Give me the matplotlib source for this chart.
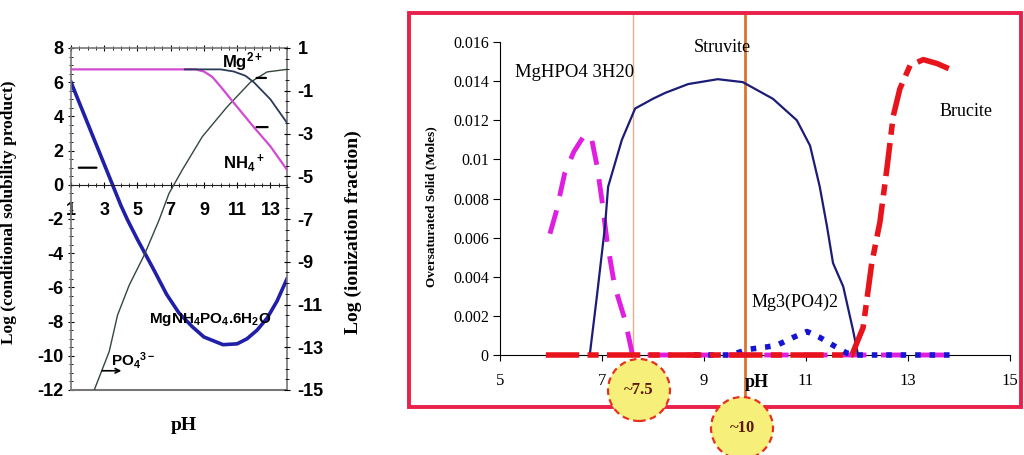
import matplotlib.pyplot as plt
from matplotlib.patches import Ellipse, Rectangle
from matplotlib.ticker import AutoMinorLocator

plt.rcParams['mathtext.fontset'] = 'custom'
plt.rcParams['mathtext.rm'] = 'Liberation Sans:bold'
plt.rcParams['mathtext.default'] = 'rm'
plt.rcParams['axes.unicode_minus'] = False

# left panel: conditional solubility product (left axis)
ph_sol = [1, 2, 3, 3.5, 4, 4.4, 5, 5.5, 6, 6.75, 7.5, 8.3, 9, 10.15, 11, 11.6, 12.2, 12.8, 13.4, 14]
log_sol = [6.0, 3.6, 1.2, 0.0, -1.2, -2.05, -3.2, -4.1, -5.0, -6.4, -7.5, -8.3, -8.9, -9.35,
           -9.3, -9.0, -8.5, -7.8, -6.8, -5.5]

# ionization fractions (right axis)
ph_nh4 = [1, 8.5, 9, 9.5, 10, 10.8, 12, 13, 14]
log_nh4 = [0, 0, -0.1, -0.35, -0.8, -1.57, -2.7, -3.6, -4.7]
ph_mg = [7.85, 10, 10.8, 11.5, 12, 13, 14]
log_mg = [0, 0, -0.1, -0.3, -0.6, -1.4, -2.5]
ph_po4 = [2.4, 3.3, 3.8, 4.5, 5.4, 6.3, 6.9, 7.7, 8.9, 10.4, 11.8, 12.8, 14]
log_po4 = [-15, -13.2, -11.5, -10.1, -8.7, -7.05, -5.8, -4.7, -3.15, -1.75, -0.6, -0.12, 0]

# right panel: oversaturated solids (moles)
ph_struv = [6.76, 6.9, 7.06, 7.12, 7.39, 7.65, 8.0, 8.24, 8.69, 9.27, 9.76, 10.35, 10.82,
            11.08, 11.27, 11.41, 11.53, 11.73, 11.92, 12.02]
struvite = [0, 0.003, 0.0066, 0.0086, 0.011, 0.0126, 0.0131, 0.0134, 0.01385, 0.0141, 0.01395,
            0.0131, 0.012, 0.0107, 0.0086, 0.0066, 0.0047, 0.0035, 0.0013, 0]
ph_mghpo4 = [5.98, 6.1, 6.27, 6.45, 6.67, 6.8, 6.9, 7.0, 7.1, 7.25, 7.45, 7.6,
             8.5, 10, 11, 12, 13, 13.9]
mghpo4 = [0.0062, 0.0073, 0.0093, 0.0104, 0.0113, 0.011, 0.0097, 0.0079, 0.0058, 0.0035,
          0.0018, 0, 0, 0, 0, 0, 0, 0]
ph_bruc = [5.9, 7, 8, 9, 10, 11, 11.9, 12.12, 12.29, 12.45, 12.59, 12.71, 12.84, 13.04,
           13.3, 13.57, 13.92]
brucite = [0, 0, 0, 0, 0, 0, 0, 0.0014, 0.0047, 0.0068, 0.0096, 0.0122, 0.0136, 0.0148,
           0.0151, 0.0149, 0.0145]
ph_mg3 = [8.8, 9.5, 9.9, 10.2, 10.43, 10.75, 11.02, 11.27, 11.53, 11.8, 12.0, 12.5, 13, 13.5, 13.9]
mg3po4 = [0, 0, 0.0003, 0.0004, 0.0005, 0.0009, 0.0012, 0.0009, 0.0005, 0.0001, 0, 0, 0, 0, 0]

left_xticks = [1, 3, 5, 7, 9, 11, 13]
left_yticks = list(range(-12, 9, 2))
right_yticks = list(range(-15, 2, 2))
solid_xticks = [5, 7, 9, 11, 13, 15]
solid_yticks = [0, 0.002, 0.004, 0.006, 0.008, 0.01, 0.012, 0.014, 0.016]
solid_ylabels = ['0', '0.002', '0.004', '0.006', '0.008', '0.01', '0.012', '0.014', '0.016']

fig = plt.figure(figsize=(10.24, 4.55), dpi=100)
W, H = 1024, 455

# ---------------- left panel ----------------
sans = 'Liberation Sans'
serif = 'Liberation Serif'

ax = fig.add_axes([71 / W, 1 - 390 / H, 216 / W, 342 / H])
ax.set_xlim(1, 14)
ax.set_ylim(-12, 8)
ax.spines['bottom'].set_position(('data', 0))
ax.spines['bottom'].set_color('#222222')
for s in ['left', 'right', 'top']:
    ax.spines[s].set_color('#777777')
    ax.spines[s].set_linewidth(1.2)
ax.plot([0, 1], [0, 0], transform=ax.transAxes, color='#777777', lw=1.5, clip_on=False)

ax.set_xticks(left_xticks)
ax.set_yticks(left_yticks)
ax.xaxis.set_minor_locator(AutoMinorLocator(4))
ax.yaxis.set_minor_locator(AutoMinorLocator(4))
ax.tick_params(axis='x', which='major', direction='inout', length=5, pad=10, top=True)
ax.tick_params(axis='x', which='minor', direction='inout', length=3, top=True)
ax.tick_params(axis='y', which='major', direction='inout', length=5, pad=3)
ax.tick_params(axis='y', which='minor', direction='inout', length=3)
for lab in ax.get_xticklabels() + ax.get_yticklabels():
    lab.set_fontfamily(sans)
    lab.set_fontweight('bold')
    lab.set_fontsize(13)

ax2 = ax.twinx()
ax2.set_ylim(-15, 1)
ax2.set_yticks(right_yticks)
ax2.yaxis.set_minor_locator(AutoMinorLocator(4))
ax2.tick_params(axis='y', which='major', direction='inout', length=5, pad=5)
ax2.tick_params(axis='y', which='minor', direction='inout', length=3)
for s in ['left', 'right', 'top', 'bottom']:
    ax2.spines[s].set_visible(False)
for lab in ax2.get_yticklabels():
    lab.set_fontfamily(sans)
    lab.set_fontweight('bold')
    lab.set_fontsize(13)

ax2.plot(ph_po4, log_po4, color='#34473a', lw=1)
ax2.plot(ph_nh4, log_nh4, color='#d24ad2', lw=1.6)
ax2.plot(ph_mg, log_mg, color='#2c3a58', lw=1.3)
ax.plot(ph_sol, log_sol, color='#1f1fa8', lw=2.6)

ax.annotate('', xy=(1.3, 1.0), xytext=(2.7, 1.0), arrowprops=dict(arrowstyle='-', lw=1.6, color='black'))
ax2.annotate('', xy=(13.0, -2.7), xytext=(12.0, -2.7), arrowprops=dict(arrowstyle='-', lw=1.6, color='black'))
ax2.annotate('', xy=(12.9, -0.4), xytext=(12.0, -0.4), arrowprops=dict(arrowstyle='-', lw=1.6, color='black'))
ax2.annotate('', xy=(4.2, -14.1), xytext=(2.7, -14.1),
             arrowprops=dict(arrowstyle='->', lw=1.2, color='black', mutation_scale=8))

ax2.text(11.3, 0.35, r'Mg$^{2+}$', fontsize=12, fontweight='bold', fontfamily=sans, ha='center', va='center')
ax2.text(11.4, -4.4, r'NH$_4$$^+$', fontsize=12, fontweight='bold', fontfamily=sans, ha='center', va='center')
ax.text(9.4, -7.9, r'MgNH$_4$PO$_4$.6H$_2$O', fontsize=11, fontweight='bold', fontfamily=sans,
        ha='center', va='center')
ax2.text(4.76, -13.6, r'PO$_4$$^{3-}$', fontsize=11, fontweight='bold', fontfamily=sans, ha='center', va='center')

ax.set_ylabel('Log (conditional solubility product)', fontsize=12.5, fontweight='bold', fontfamily=serif)
ax.yaxis.set_label_coords(-0.25, 0.52)
ax2.set_ylabel('Log (ionization fraction)', fontsize=14, fontweight='bold', fontfamily=serif)
ax2.yaxis.set_label_coords(1.268, 0.462)
ax.set_xlabel('pH', fontsize=14, fontweight='bold', fontfamily=serif)
ax.xaxis.set_label_coords(0.52, -0.08)

# ---------------- right panel ----------------
axr = fig.add_axes([409 / W, 1 - 407 / H, 612 / W, 394 / H])
axr.set_xlim(3.216, 15.216)
axr.set_ylim(-0.002658, 0.017483)
axr.spines['top'].set_visible(False)
axr.spines['right'].set_visible(False)
axr.spines['left'].set_position(('data', 5))
axr.spines['left'].set_bounds(0, 0.016)
axr.spines['bottom'].set_position(('data', 0))
axr.spines['bottom'].set_bounds(5, 15)
axr.add_patch(Rectangle((0, 0), 1, 1, transform=axr.transAxes, fill=False,
                        edgecolor='#e8204a', lw=2.8, clip_on=False, zorder=5))

axr.set_xticks(solid_xticks)
axr.set_yticks(solid_yticks)
axr.set_yticklabels(solid_ylabels)
axr.tick_params(axis='x', direction='out', length=4, pad=9, labelsize=12)
axr.tick_params(axis='y', direction='out', length=5, pad=3, labelsize=11.5)
for lab in axr.get_xticklabels() + axr.get_yticklabels():
    lab.set_fontfamily(serif)

axr.axvline(7.6, ymin=0.132, ymax=1, color='#e9b08a', lw=1, zorder=1)
axr.axvline(9.8, ymin=0, ymax=1, color='#d9762c', lw=2, zorder=1)

axr.plot(ph_mghpo4, mghpo4, color='#e01ee0', lw=3.5, dashes=(5, 3), zorder=3)
axr.plot(ph_mg3, mg3po4, color='#1414d2', lw=4, dashes=(1, 1.6), zorder=3)
axr.plot(ph_struv, struvite, color='#1c1c78', lw=1.6, zorder=4)
axr.plot(ph_bruc, brucite, color='#e8141c', lw=4, dashes=(6, 1.5, 2, 1.5), zorder=4)

axr.text(5.29, 0.01442, 'MgHPO4 3H20', fontsize=13.5, fontfamily=serif, ha='left', va='center')
axr.text(9.35, 0.0157, 'Struvite', fontsize=13, fontfamily=serif, ha='center', va='center')
axr.text(14.14, 0.01247, 'Brucite', fontsize=13, fontfamily=serif, ha='center', va='center')
axr.text(9.94, 0.00271, 'Mg3(PO4)2', fontsize=13, fontfamily=serif, ha='left', va='center')
axr.text(10.04, -0.00143, 'pH', fontsize=13, fontweight='bold', fontfamily=serif, ha='center', va='center')

axr.set_ylabel('Oversaturated Solid (Moles)', fontsize=9.5, fontweight='bold', fontfamily=serif)
axr.yaxis.set_label_coords(0.0458, 0.508)

# highlight bubbles
for cx, cy, txt in [(639, 390, '~7.5'), (742, 428, '~10')]:
    fig.add_artist(Ellipse((cx / W, 1 - cy / H), 62 / W, 62 / H, transform=fig.transFigure,
                           facecolor='#f6f07a', edgecolor='#e83020', lw=1.6,
                           linestyle=(0, (3, 2)), zorder=10))
    fig.text(cx / W, 1 - cy / H, txt, fontsize=12, fontweight='bold', fontfamily=serif,
             color='#5c1800', ha='center', va='center', zorder=11)

fig.savefig('out.png', dpi=100)
